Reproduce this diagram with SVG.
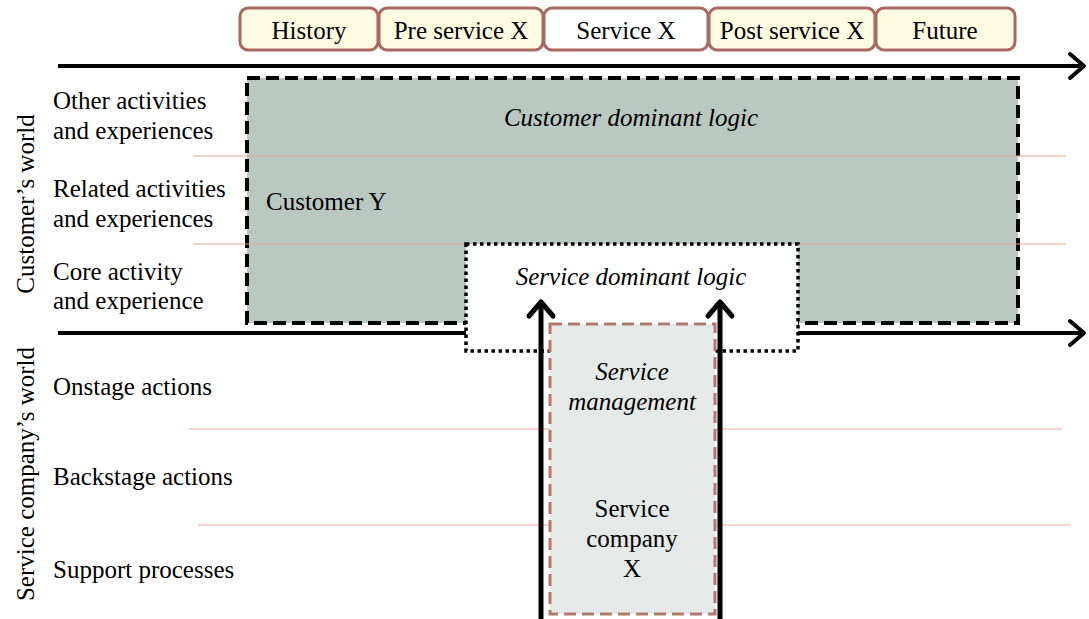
<svg xmlns="http://www.w3.org/2000/svg" width="1089" height="619" viewBox="0 0 1089 619">
<style>
text{font-family:"Liberation Serif","Times New Roman",serif;font-size:25px;fill:#000}
.it{font-style:italic}
.tab{fill:#fdfbe1;stroke:#a86a60;stroke-width:3}
.pink{stroke:#eba392;stroke-width:1.2}
.axis{stroke:#000;stroke-width:4;fill:none}
</style>
<rect width="1089" height="619" fill="#fff"/>
<g id="tabs">
<g id="tab-history"><rect class="tab" x="240" y="8" width="138" height="42" rx="8"/><text x="309" y="39" text-anchor="middle">History</text></g>
<g id="tab-pre"><rect class="tab" x="379" y="8" width="164" height="42" rx="8"/><text x="461" y="39" text-anchor="middle">Pre service X</text></g>
<g id="tab-service"><rect class="tab" x="544" y="8" width="164" height="42" rx="8" style="fill:#fff"/><text x="626" y="39" text-anchor="middle">Service X</text></g>
<g id="tab-post"><rect class="tab" x="709" y="8" width="166" height="42" rx="8"/><text x="792" y="39" text-anchor="middle">Post service X</text></g>
<g id="tab-future"><rect class="tab" x="876" y="8" width="139" height="42" rx="8"/><text x="945" y="39" text-anchor="middle">Future</text></g>
</g>
<g id="customer-dominant">
<rect x="247" y="78" width="771" height="245" fill="#b9c9c2" stroke="#000" stroke-width="4" stroke-dasharray="13,6"/>
<text class="it" x="631" y="126" text-anchor="middle">Customer dominant logic</text>
<text x="266" y="210">Customer Y</text>
</g>
<g id="lanes">
<line class="pink" x1="193" y1="156" x2="1066" y2="156"/>
<line class="pink" x1="193" y1="244" x2="1066" y2="244"/>
<line class="pink" x1="189" y1="429" x2="1062" y2="429"/>
<line class="pink" x1="198" y1="525" x2="1071" y2="525"/>
</g>
<g id="axes">
<line class="axis" x1="58" y1="66" x2="1084" y2="66"/>
<path d="M1070,54 L1084,66 L1070,78" class="axis" stroke-linecap="round" stroke-linejoin="round"/>
<line class="axis" x1="58" y1="333" x2="1084" y2="333"/>
<path d="M1070,321 L1084,333 L1070,345" class="axis" stroke-linecap="round" stroke-linejoin="round"/>
</g>
<g id="service-dominant">
<rect x="466" y="244" width="332" height="107" fill="#fff" stroke="#000" stroke-width="3.5" stroke-dasharray="3.5,3.5"/>
<text class="it" x="631" y="285" text-anchor="middle">Service dominant logic</text>
</g>
<g id="service-management">
<rect x="550" y="324" width="165" height="290" fill="#e5e9e8" stroke="#b07a70" stroke-width="3" stroke-dasharray="12,6"/>
<text class="it" x="632" y="380" text-anchor="middle">Service</text>
<text class="it" x="632" y="410" text-anchor="middle">management</text>
<text x="632" y="517" text-anchor="middle">Service</text>
<text x="632" y="547" text-anchor="middle">company</text>
<text x="632" y="577" text-anchor="middle">X</text>
</g>
<g id="connectors">
<line x1="541" y1="619" x2="541" y2="302" stroke="#000" stroke-width="5"/>
<path d="M529,316 L541,302 L553,316" fill="none" stroke="#000" stroke-width="5" stroke-linecap="round" stroke-linejoin="round"/>
<line x1="720" y1="619" x2="720" y2="302" stroke="#000" stroke-width="5"/>
<path d="M708,316 L720,302 L732,316" fill="none" stroke="#000" stroke-width="5" stroke-linecap="round" stroke-linejoin="round"/>
</g>
<g id="row-labels">
<text x="53" y="109">Other activities</text>
<text x="53" y="139">and experiences</text>
<text x="53" y="197">Related activities</text>
<text x="53" y="227">and experiences</text>
<text x="53" y="280">Core activity</text>
<text x="53" y="309">and experience</text>
<text x="53" y="395">Onstage actions</text>
<text x="53" y="485">Backstage actions</text>
<text x="53" y="578">Support processes</text>
</g>
<g id="world-labels">
<text transform="translate(34,204) rotate(-90)" text-anchor="middle">Customer’s world</text>
<text transform="translate(34,474) rotate(-90)" text-anchor="middle">Service company’s world</text>
</g>
</svg>
